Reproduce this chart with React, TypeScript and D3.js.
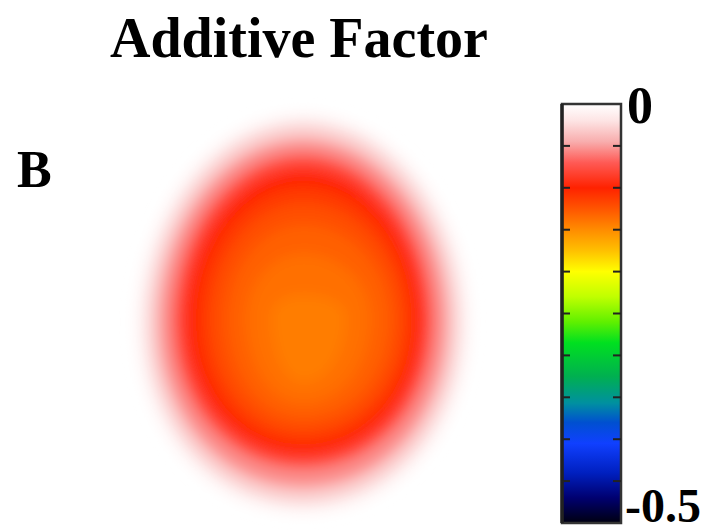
import React from "react";
import * as d3 from "d3";

// colour map of the bar (value -> colour)
const colorValues = [0, -0.02, -0.045, -0.07, -0.1, -0.125, -0.15, -0.175, -0.2, -0.23, -0.26, -0.285, -0.325, -0.357, -0.38, -0.405, -0.44, -0.47, -0.5];
const colorStops = ["#ffffff", "#fde4e4", "#f8adad", "#ff5a55", "#ff2200", "#ff5500", "#ff8c00", "#ffc000", "#ffff00", "#c0ff00", "#60f000", "#00e020", "#00b050", "#0090a0", "#0050d0", "#1040ff", "#0020c0", "#000070", "#000010"];

// nested iso-levels of the blob: value and extents (head units, -100..100)
const levelValues = [-0.008, -0.03, -0.055, -0.08, -0.1, -0.112, -0.122, -0.13, -0.137, -0.143];
const levelLeft = [-105, -98, -90, -81, -73, -65, -57, -47, -35, -20];
const levelRight = [105, 98, 90, 81, 74, 68, 62, 54, 42, 27];
const levelTop = [104, 98, 90, 82, 74, 66, 57, 46, 31, 10];
const levelBottom = [-104, -98, -90, -80, -73, -67, -61, -54, -46, -36];

const tickValues = [0, -0.5];
const tickLabels = ["0", "-0.5"];

const W = 723;
const H = 532;
const font = "'Liberation Serif', 'Times New Roman', serif";

export default function App() {
  const color = d3.scaleLinear<string>().domain(colorValues).range(colorStops).clamp(true);

  const x = d3.scaleLinear().domain([-100, 100]).range([143, 463]);
  const y = d3.scaleLinear().domain([100, -100]).range([120, 507]);

  const cb = { left: 562, right: 621, top: 104, bottom: 523 };
  const cbY = d3.scaleLinear().domain([0, -0.5]).range([cb.top, cb.bottom]);

  const angles = d3.range(0, 360, 22.5).map((a) => (a * Math.PI) / 180);
  const line = d3
    .line<[number, number]>()
    .x((d) => x(d[0]))
    .y((d) => y(d[1]))
    .curve(d3.curveCatmullRomClosed);

  const levels = levelValues.map((v, i) => {
    const pts: [number, number][] = angles.map((t) => {
      const c = Math.cos(t);
      const s = Math.sin(t);
      const px = c * (c >= 0 ? levelRight[i] : -levelLeft[i]) * (1 - 0.05 * s);
      const py = s * (s >= 0 ? levelTop[i] : -levelBottom[i]);
      return [px, py];
    });
    return { v, d: line(pts) as string };
  });

  const innerTicks = cbY.ticks(10).filter((t) => t !== 0 && t !== -0.5);

  return (
    <svg width={W} height={H} style={{ position: "absolute", left: 0, top: 0, background: "#fff" }}>
      <defs>
        <filter id="soft" x="-20%" y="-20%" width="140%" height="140%">
          <feGaussianBlur stdDeviation="6.5" />
        </filter>
        <linearGradient id="cbar" x1="0" y1="0" x2="0" y2="1">
          {colorValues.map((v, i) => (
            <stop key={i} offset={(cbY(v) - cb.top) / (cb.bottom - cb.top)} stopColor={colorStops[i]} />
          ))}
        </linearGradient>
      </defs>
      <rect width={W} height={H} fill="#fff" />

      <text x={110} y={57} fontFamily={font} fontWeight="bold" fontSize={56} fill="#000">
        Additive Factor
      </text>
      <text x={17} y={187} fontFamily={font} fontWeight="bold" fontSize={52} fill="#000">
        B
      </text>

      <g filter="url(#soft)">
        {levels.map((l, i) => (
          <path key={i} d={l.d} fill={color(l.v)} />
        ))}
      </g>

      <rect x={cb.left} y={cb.top} width={cb.right - cb.left} height={cb.bottom - cb.top} fill="url(#cbar)" stroke="#333" strokeWidth={2.5} />
      <line x1={cb.left} x2={cb.left} y1={cb.top} y2={cb.bottom} stroke="#222" strokeWidth={3.5} />
      {innerTicks.map((t) => (
        <g key={t} stroke="#222" strokeWidth={2}>
          <line x1={cb.left} x2={cb.left + 8} y1={cbY(t)} y2={cbY(t)} />
          <line x1={cb.right - 8} x2={cb.right} y1={cbY(t)} y2={cbY(t)} />
        </g>
      ))}
      {tickValues.map((v, i) => (
        <text
          key={i}
          x={cb.right + (v === 0 ? 6 : 4)}
          y={v === 0 ? cbY(v) + 19 : cbY(v) - 1}
          fontFamily={font}
          fontWeight="bold"
          fontSize={v === 0 ? 52 : 48}
          fill="#000"
        >
          {tickLabels[i]}
        </text>
      ))}
    </svg>
  );
}
